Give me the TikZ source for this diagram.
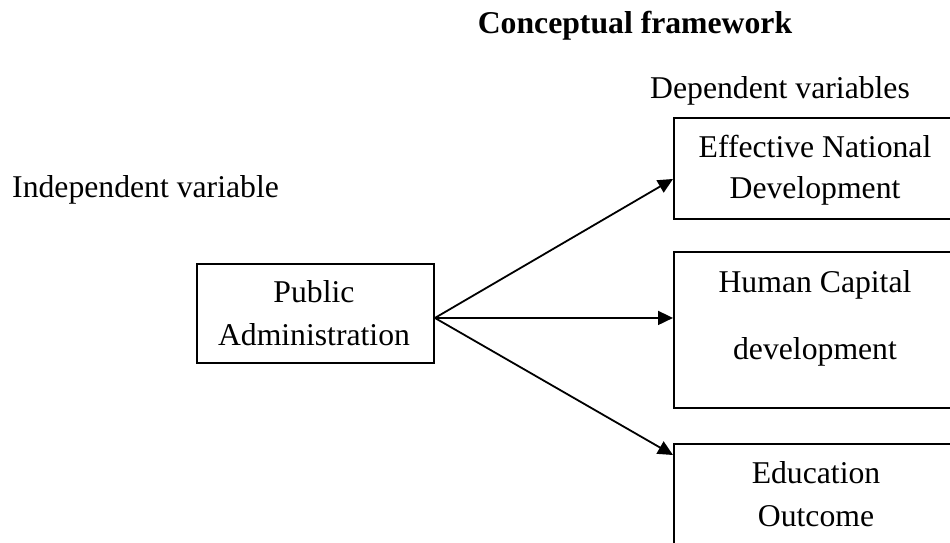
\documentclass[tikz,border=0pt]{standalone}
\usepackage{fontspec}
\setmainfont{Liberation Serif}
\usetikzlibrary{arrows.meta}
\begin{document}
\begin{tikzpicture}[x=1pt,y=-1pt,
  box/.style={draw,line width=1.9pt,rectangle,inner sep=0pt,anchor=north west},
  txt/.style={inner sep=0pt,anchor=base,font=\fontsize{31.7}{38}\selectfont},
  conn/.style={line width=1.8pt,-{Triangle[length=15pt,width=14pt]}}]
\useasboundingbox (0,0) rectangle (950,542);
% title and headings
\node[txt,font=\fontsize{31.7}{38}\selectfont\bfseries] (title) at (635,33) {Conceptual framework};
\node[txt,anchor=base west] (dep) at (650,98) {Dependent variables};
\node[txt,anchor=base west] (indep) at (12,197) {Independent variable};
% boxes
\node[box,minimum width=237pt,minimum height=99pt] (pa) at (196,263) {};
\node[box,minimum width=300pt,minimum height=101pt] (end) at (673,117) {};
\node[box,minimum width=300pt,minimum height=156pt] (hc) at (673,251) {};
\node[box,minimum width=300pt,minimum height=120pt] (eo) at (673,443) {};
% box texts
\node[txt] (pa1) at (314,302) {Public};
\node[txt] (pa2) at (314,345) {Administration};
\node[txt] (end1) at (815,157) {Effective National};
\node[txt] (end2) at (815,198) {Development};
\node[txt] (hc1) at (815,292) {Human Capital};
\node[txt] (hc2) at (815,359) {development};
\node[txt] (eo1) at (816,483) {Education};
\node[txt] (eo2) at (816,526) {Outcome};
% connectors
\coordinate (src) at ([yshift=-4.5pt]pa.east);
\draw[conn] (src) -- ([yshift=-10.5pt]end.west);
\draw[conn] (src) -- ([yshift=12pt]hc.west);
\draw[conn] (src) -- ([yshift=-12pt]eo.north west);
\end{tikzpicture}
\end{document}
